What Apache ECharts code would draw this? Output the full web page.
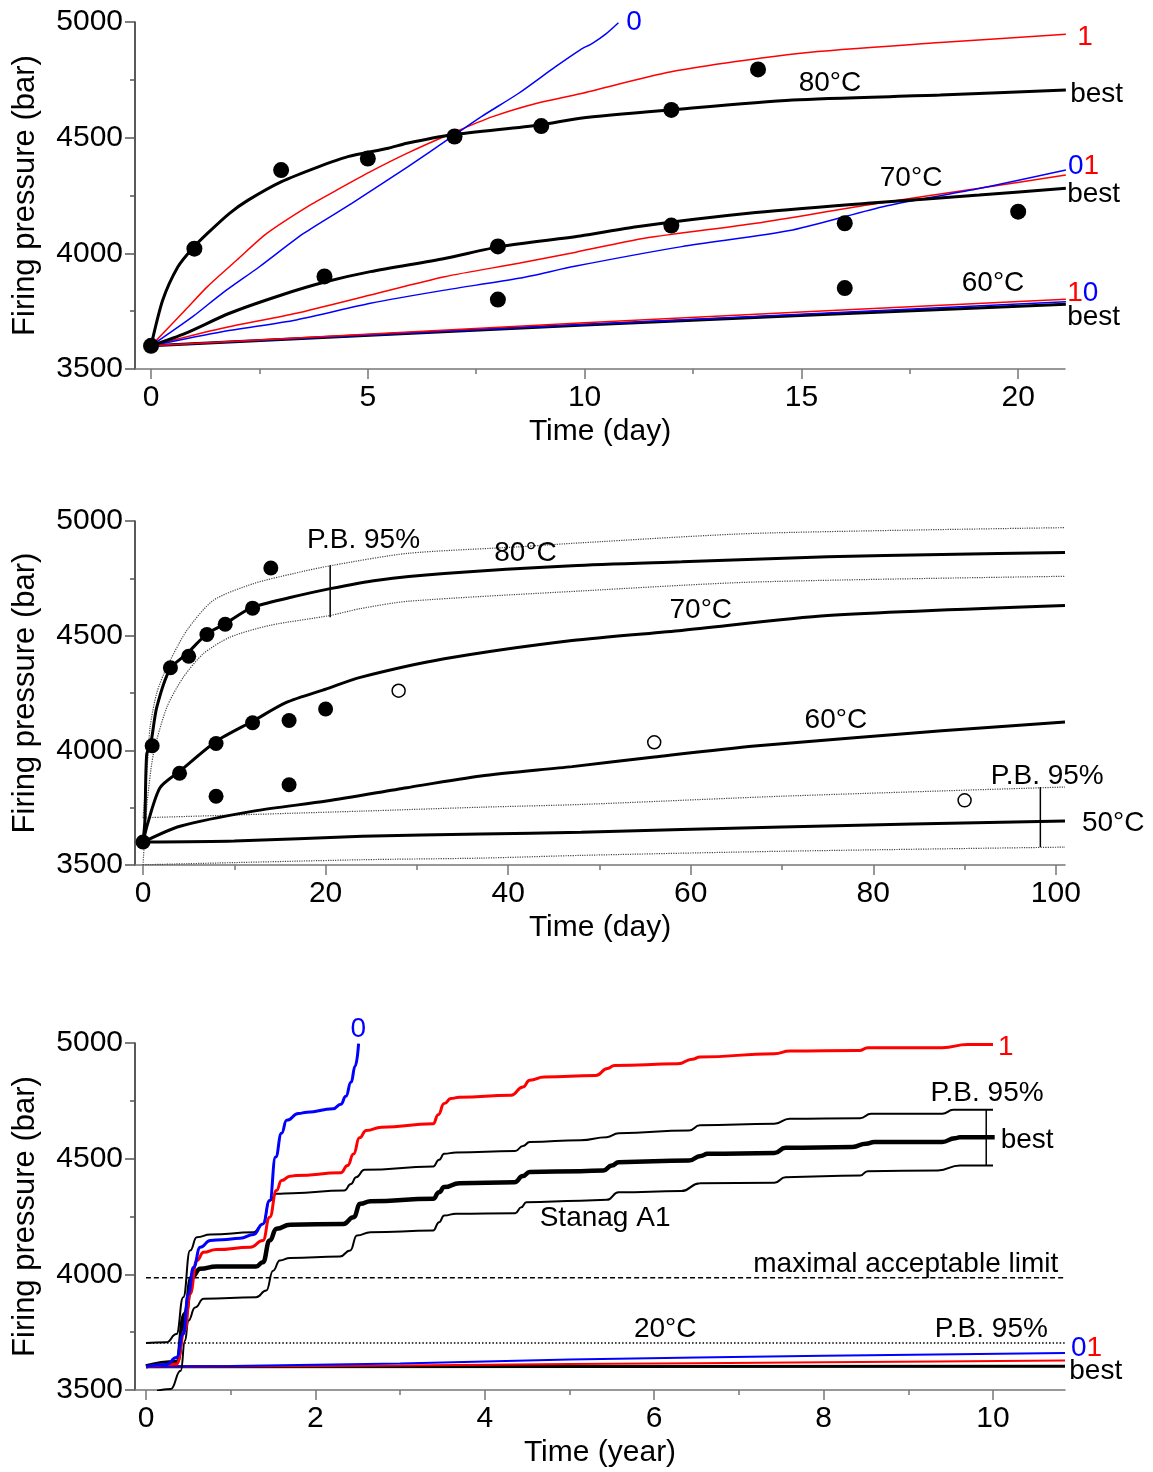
<!DOCTYPE html>
<html><head><meta charset="utf-8">
<script src="https://cdn.jsdelivr.net/npm/echarts@6/dist/echarts.min.js"></script>
<style>html,body{margin:0;padding:0;background:#fff}#c{width:1153px;height:1472px}</style>
</head><body><div id="c"></div>
<script>
// ---------- Panel 1 (Time in days, 0-21) ----------
const t80best = [[0,3600],[0.27,3798],[0.62,3942],[0.955,4021],[1.3,4086],[1.81,4173],[2.24,4230],[3.01,4310],[3.86,4374],[4.54,4418],[5.47,4454],[5.9,4476],[6.92,4512],[8.97,4555],[9.9,4584],[11.98,4620],[14.8,4663],[18.2,4684],[21.1,4706]];
const t80red  = [[0,3600],[0.79,3755],[1.3,3856],[1.98,3971],[2.67,4086],[3.61,4202],[4.29,4274],[5.06,4353],[5.9,4432],[6.94,4519],[7.88,4591],[8.9,4649],[9.9,4690],[12,4785],[14.98,4865],[18.2,4911],[21.1,4947]];
const t80blue = [[0,3600],[0.96,3726],[1.64,3827],[2.5,3942],[3.52,4086],[4.63,4216],[5.92,4374],[6.94,4504],[7.62,4591],[8.48,4692],[9.33,4807],[9.9,4880],[10.18,4908],[10.5,4950],[10.78,4997]];
const t70best = [[0,3600],[0.79,3654],[1.81,3741],[3.01,3820],[4.03,3877],[5.06,3921],[6.77,3978],[8.05,4029],[9.9,4075],[11.2,4115],[13.78,4173],[16.52,4216],[19.1,4252],[21.1,4281]];
const t70red  = [[0,3600],[1.64,3676],[3.35,3741],[5.06,3820],[6.77,3899],[8.48,3957],[9.8,4005],[11.38,4065],[13.95,4130],[16.52,4209],[19.1,4281],[21.1,4339]];
const t70blue = [[0,3600],[1.64,3661],[3.35,3712],[5.06,3784],[6.77,3841],[8.48,3892],[9.8,3945],[12.24,4029],[14.8,4101],[16.95,4205],[19.1,4280],[21.1,4360]];
const t60best = [[0,3600],[10,3690],[21.1,3780]];
const t60red  = [[0,3600],[10,3700],[21.1,3802]];
const t60blue = [[0,3600],[10,3692],[21.1,3791]];
const pts80 = [[0,3600],[1,4020],[3,4360],[5,4410],[7,4505],[9,4550],[12,4620],[14,4795]];
const pts70 = [[4,3900],[8,4030],[12,4120],[16,4130],[20,4180]];
const pts60 = [[8,3800],[16,3850]];

// ---------- Panel 2 (Time in days, 0-100) ----------
const m80best = [[0,3600],[0.2,3690],[0.4,3983],[0.84,4027],[1.5,4187],[2.96,4355],[4.8,4421],[7,4508],[9,4552],[11.9,4622],[16,4665],[20.5,4705],[25.7,4742],[33,4771],[47,4805],[59,4822],[75,4844],[87.5,4854],[101,4863]];
const m80up   = [[0,3706],[0.5,3950],[0.77,4100],[1.5,4250],[2.6,4362],[4.8,4523],[7.7,4654],[12.1,4727],[16.5,4771],[20.8,4807],[29,4859],[41,4887],[48,4905],[67,4946],[101,4971]];
const m80low  = [[0,3500],[0.4,3750],[1.13,3983],[2.6,4187],[4.4,4318],[6.6,4421],[9.5,4493],[13.9,4545],[20.5,4588],[23.8,4618],[29,4650],[48,4695],[67,4734],[101,4759]];
const m70best = [[0,3600],[0.5,3680],[1.86,3837],[4.05,3910],[8.07,4041],[12.1,4129],[15.7,4209],[20.1,4268],[23.8,4318],[33,4399],[47,4479],[59,4523],[75,4588],[101,4632]];
const m60best = [[0,3600],[4.05,3669],[12.1,3735],[20.1,3779],[28.9,3837],[37,3888],[47,3929],[56,3971],[67,4019],[87.5,4085],[101,4124]];
const m50best = [[0,3600],[10,3605],[24,3625],[37,3635],[48,3643],[70,3666],[101,3692]];
const m50up   = [[0,3706],[24,3735],[37,3752],[48,3764],[70,3800],[101,3840]];
const m50low  = [[0,3501],[24,3523],[37,3530],[48,3542],[70,3560],[101,3578]];
const mBar80  = [[20.5,4580],[20.5,4807]];
const mBar50  = [[98.3,3578],[98.3,3840]];
const openPts = [[28,4260],[56,4035],[90,3782]];

// ---------- Panel 3 (Time in years, 0-10) ----------
const bBlue = [[0,3601],[0.24,3610],[0.36,3640],[0.44,3742],[0.5,3915],[0.56,4030],[0.64,4117],[0.76,4146],[0.9,4150],[1.11,4156],[1.27,4172],[1.38,4218],[1.46,4319],[1.53,4507],[1.6,4610],[1.66,4666],[1.8,4695],[1.9,4701],[2.21,4716],[2.3,4735],[2.36,4770],[2.42,4830],[2.47,4900],[2.51,4997]];
const bRed = [[0,3600],[0.36,3612],[0.46,3757],[0.52,3915],[0.6,4060],[0.68,4095],[0.83,4107],[1.23,4117],[1.38,4146],[1.46,4247],[1.54,4362],[1.6,4406],[1.7,4424],[1.77,4427],[2.3,4439],[2.38,4470],[2.45,4520],[2.52,4590],[2.6,4622],[2.78,4636],[3.39,4651],[3.45,4690],[3.52,4738],[3.6,4760],[3.7,4766],[4.31,4774],[4.45,4810],[4.53,4839],[4.7,4853],[5.31,4860],[5.45,4890],[5.53,4903],[6.28,4910],[6.45,4930],[6.54,4939],[7.42,4954],[7.6,4965],[8.43,4968],[8.52,4980],[9.4,4980],[9.7,4993],[10.0,4993]];
const bBest = [[0,3602],[0.36,3620],[0.46,3829],[0.54,3987],[0.64,4024],[0.83,4034],[1.3,4034],[1.38,4052],[1.46,4146],[1.54,4197],[1.7,4214],[2.33,4218],[2.45,4247],[2.53,4305],[2.65,4316],[3.39,4327],[3.46,4355],[3.52,4377],[3.7,4394],[4.35,4398],[4.45,4425],[4.53,4442],[5.13,4446],[5.4,4449],[5.5,4470],[5.58,4485],[6.41,4492],[6.55,4512],[6.63,4521],[7.42,4524],[7.55,4547],[8.34,4550],[8.5,4565],[8.6,4572],[9.4,4572],[9.55,4588],[9.61,4593],[10.02,4593]];
const bUp = [[0,3703],[0.24,3706],[0.36,3742],[0.44,3901],[0.52,4103],[0.6,4160],[0.76,4172],[1.27,4182],[1.38,4218],[1.46,4319],[1.54,4348],[1.73,4351],[2.34,4362],[2.42,4390],[2.48,4420],[2.58,4452],[3.39,4466],[3.46,4495],[3.52,4521],[3.66,4527],[4.36,4533],[4.45,4555],[4.53,4572],[5.13,4580],[5.44,4593],[5.58,4610],[6.41,4622],[6.54,4644],[7.42,4651],[7.6,4673],[8.43,4675],[8.56,4694],[9.4,4694],[9.53,4711],[10.0,4711]];
const bLow = [[0.13,3497],[0.29,3504],[0.41,3583],[0.46,3713],[0.5,3800],[0.58,3857],[0.68,3894],[1.3,3901],[1.42,3930],[1.5,4016],[1.58,4060],[1.7,4071],[2.29,4077],[2.41,4103],[2.49,4168],[2.65,4182],[3.39,4189],[3.46,4225],[3.52,4254],[3.66,4262],[4.36,4264],[4.43,4290],[4.49,4312],[5.13,4318],[5.44,4322],[5.58,4355],[6.32,4360],[6.54,4394],[7.42,4396],[7.55,4420],[8.43,4427],[8.52,4446],[9.35,4449],[9.61,4471],[10.0,4471]];
const b20best = [[0,3600],[10.85,3603]];
const b20red  = [[0,3600],[3,3606],[5,3612],[8,3620],[10.85,3627]];
const b20blue = [[0,3601],[1,3604],[3,3615],[5,3632],[8,3648],[10.85,3660]];
const b20pb   = [[0,3703],[10.85,3703]];
const bLimit  = [[0,3985],[10.85,3985]];
const bBar    = [[9.92,4711],[9.92,4471]];

// ---------- Axes ticks ----------
const x1Major = [0,5,10,15,20], x1Minor = [2.5,7.5,12.5,17.5];
const x2Major = [0,20,40,60,80,100], x2Minor = [10,30,50,70,90];
const x3Major = [0,2,4,6,8,10], x3Minor = [1,3,5,7,9];

const FONT = "'Liberation Sans', Arial, Helvetica, sans-serif";
const grids = [
  {left:135, top:22, width:930, height:347},
  {left:135, top:521, width:930, height:344},
  {left:135, top:1043, width:930, height:347}
];
const xRanges = [[-0.37,21.08],[-0.88,101],[-0.13,10.85]];
const xNames = ['Time (day)','Time (day)','Time (year)'];
const xMaj = [x1Major,x2Major,x3Major], xMin = [x1Minor,x2Minor,x3Minor];

const xAxes = [], yAxes = [];
for (let g=0; g<3; g++) {
  xAxes.push({
    type:'value', gridIndex:g, position:'bottom', min:xRanges[g][0], max:xRanges[g][1],
    name:xNames[g], nameLocation:'middle', nameGap:48,
    nameTextStyle:{fontSize:30, fontFamily:FONT, color:'#000'},
    axisLine:{show:true, onZero:false, lineStyle:{color:'#777', width:1.5}},
    axisTick:{show:true, customValues:xMaj[g], length:10, lineStyle:{color:'#777', width:1.5}},
    axisLabel:{customValues:xMaj[g], fontSize:30, fontFamily:FONT, color:'#000', margin:14, formatter:v=>String(v)},
    splitLine:{show:false}
  });
  xAxes.push({
    type:'value', gridIndex:g, position:'bottom', min:xRanges[g][0], max:xRanges[g][1],
    axisLine:{show:false, onZero:false},
    axisTick:{show:true, customValues:xMin[g], length:5, lineStyle:{color:'#777', width:1.5}},
    axisLabel:{show:false}, splitLine:{show:false}
  });
  yAxes.push({
    type:'value', gridIndex:g, min:3500, max:5000, interval:500,
    name:'Firing pressure (bar)', nameLocation:'middle', nameGap:94,
    nameTextStyle:{fontSize:31, fontFamily:FONT, color:'#000'},
    axisLine:{show:true, onZero:false, lineStyle:{color:'#222', width:1.5}},
    axisTick:{show:true, length:10, lineStyle:{color:'#555', width:1.5}},
    minorTick:{show:true, splitNumber:2, length:5, lineStyle:{color:'#555', width:1.5}},
    axisLabel:{fontSize:30, fontFamily:FONT, color:'#000', margin:12, formatter:v=>String(v)},
    splitLine:{show:false}, minorSplitLine:{show:false}
  });
}

function L(g, data, color, width, type, z, mono) {
  const s = {type:'line', xAxisIndex:g*2, yAxisIndex:g, data:data, symbol:'none', showSymbol:false,
    smooth:mono ? 0.5 : 0.25, silent:true, z:z||2,
    lineStyle:{color:color, width:width, type:type||'solid'}};
  if (mono) s.smoothMonotone = 'x';
  return s;
}
function S(g, data, size, hollow) {
  return {type:'scatter', xAxisIndex:g*2, yAxisIndex:g, data:data, symbol:'circle', symbolSize:size, silent:true, z:5,
    itemStyle: hollow ? {color:'#fff', borderColor:'#000', borderWidth:1.5, opacity:1} : {color:'#000', opacity:1}};
}
const RED='#ff0000', BLUE='#0000ff', BLK='#000';
const series = [
  // panel 1
  L(0,t60best,BLK,3), L(0,t60blue,BLUE,1.5,'solid',3), L(0,t60red,RED,1.5,'solid',3),
  L(0,t70red,RED,1.5), L(0,t70blue,BLUE,1.5), L(0,t70best,BLK,3,'solid',3),
  L(0,t80red,RED,1.5), L(0,t80blue,BLUE,1.5), L(0,t80best,BLK,3,'solid',3),
  S(0,pts80,16), S(0,pts70,16), S(0,pts60,16),
  // panel 2
  L(1,m80up,'#444',1.2,'dotted'), L(1,m80low,'#444',1.2,'dotted'),
  L(1,m50up,'#444',1.2,'dotted'), L(1,m50low,'#444',1.2,'dotted'),
  L(1,m80best,BLK,3), L(1,m70best,BLK,3), L(1,m60best,BLK,3), L(1,m50best,BLK,3),
  L(1,mBar80,BLK,1.5), L(1,mBar50,BLK,1.5),
  S(1,pts80,15), S(1,pts70,15), S(1,pts60,15), S(1,openPts,13,true),
  // panel 3
  L(2,bLimit,BLK,1.5,[5,3]), L(2,b20pb,BLK,1.5,[1.5,2]),
  L(2,b20best,BLK,3), L(2,b20red,RED,2), L(2,b20blue,BLUE,2),
  L(2,bUp,BLK,2,'solid',2,true), L(2,bLow,BLK,2,'solid',2,true), L(2,bBest,BLK,4.5,'solid',3,true),
  L(2,bRed,RED,3,'solid',4,true), L(2,bBlue,BLUE,3,'solid',5,true),
  L(2,bBar,BLK,1.5)
];

const chart = echarts.init(document.getElementById('c'), null, {renderer:'canvas'});
chart.setOption({
  animation:false, backgroundColor:'#fff',
  grid:grids, xAxis:xAxes, yAxis:yAxes, series:series
});

// ---------- Text annotations (in data coordinates) ----------
const notes = [
  {g:0, x:10.96, y:5000, t:'0', c:BLUE, a:'left'},
  {g:0, x:21.36, y:4935, t:'1', c:RED, a:'left'},
  {g:0, x:15.66, y:4736, t:'80°C', a:'center'},
  {g:0, x:21.2, y:4689, t:'best', a:'left'},
  {g:0, x:17.53, y:4326, t:'70°C', a:'center'},
  {g:0, x:21.15, y:4377, rich:'{b|0}{r|1}', a:'left'},
  {g:0, x:21.13, y:4256, t:'best', a:'left'},
  {g:0, x:19.42, y:3872, t:'60°C', a:'center'},
  {g:0, x:21.13, y:3828, rich:'{r|1}{b|0}', a:'left'},
  {g:0, x:21.13, y:3722, t:'best', a:'left'},
  {g:1, x:24.15, y:4917, t:'P.B. 95%', a:'center'},
  {g:1, x:41.9, y:4859, t:'80°C', a:'center'},
  {g:1, x:61.1, y:4610, t:'70°C', a:'center'},
  {g:1, x:75.9, y:4129, t:'60°C', a:'center'},
  {g:1, x:99.05, y:3888, t:'P.B. 95%', a:'center'},
  {g:1, x:102.85, y:3684, t:'50°C', a:'left'},
  {g:2, x:2.506, y:5058, t:'0', c:BLUE, a:'center'},
  {g:2, x:10.06, y:4983, t:'1', c:RED, a:'left'},
  {g:2, x:9.93, y:4781, t:'P.B. 95%', a:'center'},
  {g:2, x:10.09, y:4579, t:'best', a:'left'},
  {g:2, x:5.42, y:4241, t:'Stanag A1', a:'center'},
  {g:2, x:8.97, y:4045, t:'maximal acceptable limit', a:'center'},
  {g:2, x:6.13, y:3764, t:'20°C', a:'center'},
  {g:2, x:9.98, y:3764, t:'P.B. 95%', a:'center'},
  {g:2, x:10.92, y:3682, rich:'{b|0}{r|1}', a:'left'},
  {g:2, x:10.9, y:3580, t:'best', a:'left'}
];
const graphics = notes.map(n => {
  const p = chart.convertToPixel({xAxisIndex:n.g*2, yAxisIndex:n.g}, [n.x, n.y]);
  const style = {x:p[0], y:p[1], align:n.a, verticalAlign:'middle', font:'28px ' + FONT, fill:n.c || '#000'};
  if (n.rich) {
    style.text = n.rich;
    style.rich = {b:{fill:BLUE, font:'28px ' + FONT}, r:{fill:RED, font:'28px ' + FONT}};
  } else style.text = n.t;
  return {type:'text', silent:true, z:10, style:style};
});
chart.setOption({graphic:graphics});
</script></body></html>
